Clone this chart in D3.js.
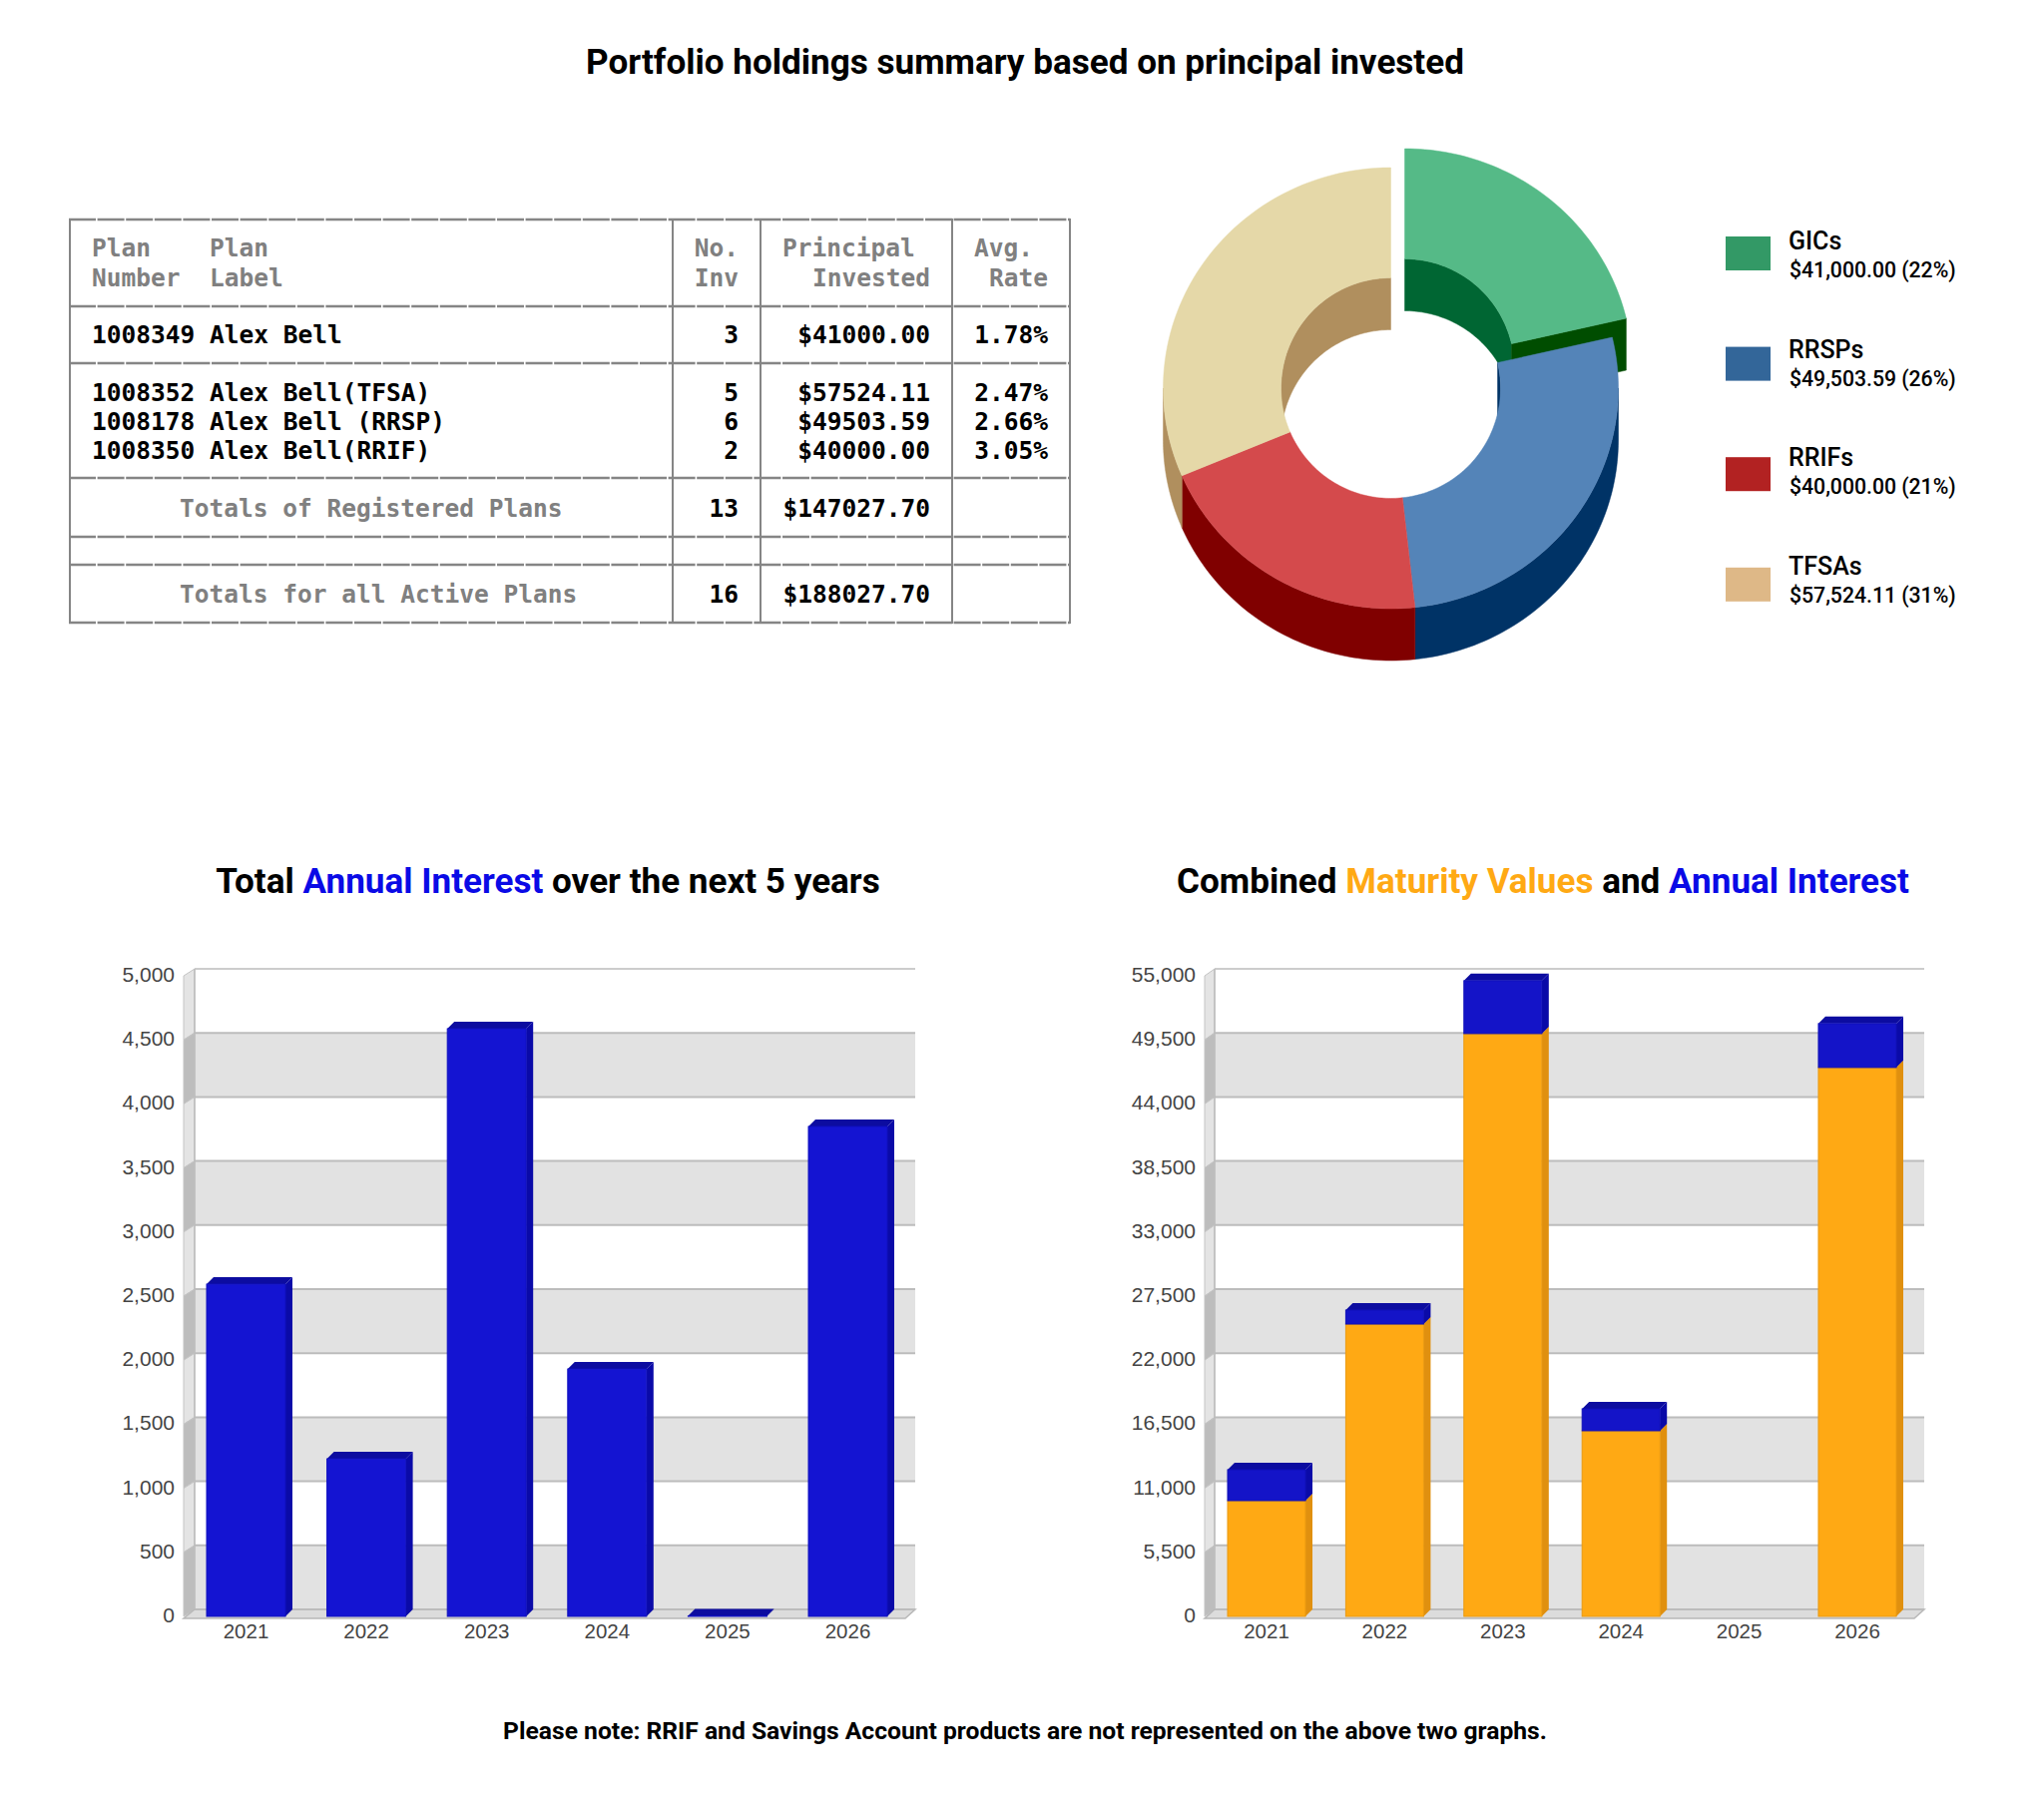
<!DOCTYPE html>
<html><head><meta charset="utf-8">
<style>html,body{margin:0;padding:0;background:#fff}svg{display:block}</style>
<script src="https://cdn.jsdelivr.net/npm/d3@7"></script></head>
<body><svg id="c" width="2048" height="1799"></svg>
<script>
const years = ["2021","2022","2023","2024","2025","2026"];
const annualInterest = [2593,1230,4587,1931,4,3824];
const maturityValues = [9940,25100,50040,15940,0,47130];
const combinedInterest = [2656,1200,4545,1880,0,3770];
const leftTicks = [0,500,1000,1500,2000,2500,3000,3500,4000,4500,5000];
const rightTicks = [0,5500,11000,16500,22000,27500,33000,38500,44000,49500,55000];
const holdingNames = ["GICs","RRSPs","RRIFs","TFSAs"];
const holdingAmounts = ["$41,000.00 (22%)","$49,503.59 (26%)","$40,000.00 (21%)","$57,524.11 (31%)"];
const sliceShares = [21.3,27.0,20.2,31.5]; // slice sizes as drawn in the picture
const holdingColors = ["#339966","#336699","#b22222","#deb887"];
const topColors = ["#55ba87","#5484b8","#d44a4c","#e5d8a8"];
const wallColors = ["#006633","#003366","#800000","#b08f5e"];
const tableRows = [
  {y:344,c:"#000",t:["1008349 Alex Bell","3","$41000.00","1.78%"]},
  {y:402,c:"#000",t:["1008352 Alex Bell(TFSA)","5","$57524.11","2.47%"]},
  {y:431,c:"#000",t:["1008178 Alex Bell (RRSP)","6","$49503.59","2.66%"]},
  {y:460,c:"#000",t:["1008350 Alex Bell(RRIF)","2","$40000.00","3.05%"]}
];
const svg = d3.select("#c");
const sans = "Roboto, sans-serif", mono = "'DejaVu Sans Mono', monospace", arial = "'Liberation Sans', Arial, sans-serif";

// titles
function rich(x,y,size,weight,parts){
  const t = svg.append("text").attr("x",x).attr("y",y).attr("text-anchor","middle")
    .attr("font-family",sans).attr("font-size",size).attr("font-weight",weight);
  parts.forEach(p=>t.append("tspan").attr("fill",p[1]).text(p[0]));
}
rich(1027,74,35.1,700,[["Portfolio holdings summary based on principal invested","#000"]]);
rich(549,895,35.1,700,[["Total ","#000"],["Annual Interest","#0a0ae6"],[" over the next 5 years","#000"]]);
rich(1546,895,35.1,700,[["Combined ","#000"],["Maturity Values","#ffa914"],[" and ","#000"],["Annual Interest","#0a0ae6"]]);
rich(1027,1743,24.65,700,[["Please note: RRIF and Savings Account products are not represented on the above two graphs.","#000"]]);

// table
const tg = svg.append("g").attr("font-family",mono).attr("font-size",24.5).attr("font-weight",700);
const hLines=[220,307,364,479,538,566,624], vLines=[70,674,762,954,1072];
hLines.forEach(y=>tg.append("line").attr("x1",69).attr("x2",1072).attr("y1",y).attr("y2",y).attr("stroke","#858585").attr("stroke-width",2.4).attr("stroke-dasharray","27 1.6"));
vLines.forEach(x=>tg.append("line").attr("x1",x).attr("x2",x).attr("y1",219).attr("y2",625).attr("stroke","#858585").attr("stroke-width",2));
const txt=(x,y,s,c,a)=>tg.append("text").attr("x",x).attr("y",y).attr("fill",c).attr("text-anchor",a||"start").style("white-space","pre").text(s);
const grey="#808080";
txt(92,257,"Plan",grey);txt(92,287,"Number",grey);txt(210,257,"Plan",grey);txt(210,287,"Label",grey);
txt(740,257,"No.",grey,"end");txt(740,287,"Inv",grey,"end");
txt(784,257,"Principal",grey);txt(932,287,"Invested",grey,"end");
txt(976,257,"Avg.",grey);txt(1050,287,"Rate",grey,"end");
tableRows.forEach(r=>{txt(92,r.y,r.t[0],r.c);txt(740,r.y,r.t[1],r.c,"end");txt(932,r.y,r.t[2],r.c,"end");txt(1050,r.y,r.t[3],r.c,"end");});
txt(180,517.5,"Totals of Registered Plans",grey);txt(740,517.5,"13","#000","end");txt(932,517.5,"$147027.70","#000","end");
txt(180,603.5,"Totals for all Active Plans",grey);txt(740,603.5,"16","#000","end");txt(932,603.5,"$188027.70","#000","end");

// donut
const cx=1393.5, cy=389, ORX=228, ORY=221, IRX=110, IRY=110.5, depth=52;
const arcs=d3.pie().sort(null).value(d=>d)(sliceShares);
const line=d3.line();
const pt=(a,rx,ry,ox,oy)=>[cx+ox+rx*Math.sin(a),cy+oy-ry*Math.cos(a)];
const samples=(a0,a1,rx,ry,ox,oy)=>d3.range(0,61).map(i=>pt(a0+(a1-a0)*i/60,rx,ry,ox,oy));
const dg=svg.append("g");
const offs=arcs.map((d,i)=>i===0?[14,-19]:[0,0]);
const poly=(pts,fill)=>dg.append("path").attr("d",line(pts)+"Z").attr("fill",fill).attr("stroke",fill).attr("stroke-width",.5);
const band=(a0,a1,rx,ry,o,fill)=>{
  const top=samples(a0,a1,rx,ry,o[0],o[1]), bot=samples(a1,a0,rx,ry,o[0],o[1]+depth);
  poly(top.concat(bot),fill);
};
const P=Math.PI;
// inner walls (back half of the hole)
arcs.forEach((d,i)=>{
  if(d.startAngle<P/2) band(d.startAngle,Math.min(d.endAngle,P/2),IRX,IRY,offs[i],wallColors[i]);
  if(d.endAngle>1.5*P) band(Math.max(d.startAngle,1.5*P),d.endAngle,IRX,IRY,offs[i],wallColors[i]);
});
// outer walls (front half)
arcs.forEach((d,i)=>{
  const a0=Math.max(d.startAngle,P/2), a1=Math.min(d.endAngle,1.5*P);
  if(a1>a0) band(a0,a1,ORX,ORY,offs[i],wallColors[i]);
});
// cut face of the exploded slice
{const a=arcs[0].endAngle,o=offs[0];
 const p=pt(a,IRX,IRY,o[0],o[1]),q=pt(a,ORX,ORY,o[0],o[1]);
 poly([p,q,[q[0],q[1]+depth],[p[0],p[1]+depth]],"#004d00");}
// top faces
arcs.forEach((d,i)=>{
  const o=offs[i];
  poly(samples(d.startAngle,d.endAngle,ORX,ORY,o[0],o[1]).concat(samples(d.endAngle,d.startAngle,IRX,IRY,o[0],o[1])),topColors[i]);
});

// legend
const lg=svg.append("g").attr("font-family",sans);
holdingNames.forEach((n,i)=>{
  const y=237+i*110.6;
  lg.append("rect").attr("x",1729).attr("y",y).attr("width",45).attr("height",34).attr("fill",holdingColors[i]);
  lg.append("text").attr("x",1792).attr("y",250+i*108.5).attr("font-size",25).attr("font-weight",500).attr("fill","#000").text(n);
  lg.append("text").attr("x",1793).attr("y",278+i*108.7).attr("font-size",21.2).attr("font-weight",500).attr("fill","#000").text(holdingAmounts[i]);
});

// 3D bar charts
function chart(o){
  const g=svg.append("g");
  const dy=9;
  const yS=d3.scaleLinear().domain([0,o.ticks[o.ticks.length-1]]).range([1613,971]);
  const xS=d3.scaleBand().domain(years).range([o.x0,o.x1]).paddingInner(o.pad);
  const ty=o.ticks.slice().reverse();
  // background bands
  ty.slice(0,-1).forEach((t,i)=>{
    if(i%2===1) g.append("rect").attr("x",o.bx).attr("y",yS(t)).attr("width",o.right-o.bx).attr("height",yS(ty[i+1])-yS(t)).attr("fill","#e2e2e2");
    const p=[[o.fx,yS(t)+dy-2],[o.bx,yS(t)],[o.bx,yS(ty[i+1])],[o.fx,yS(ty[i+1])+dy-2]];
    g.append("path").attr("d",line(p)+"Z").attr("fill",i%2===1?"#bdbdbd":"#e4e4e4").attr("stroke","#c4c4c4");
  });
  // floor
  g.append("path").attr("d",line([[o.bx,1613],[o.right,1613],[o.right-10,1622],[o.fx,1622]])+"Z").attr("fill","#dcdcdc").attr("stroke","#b8b8b8").attr("stroke-width",1.5);
  // grid lines
  o.ticks.forEach(t=>g.append("line").attr("x1",o.bx).attr("x2",o.right).attr("y1",yS(t)).attr("y2",yS(t)).attr("stroke",t===o.ticks[o.ticks.length-1]?"#cccccc":"#bcbcbc").attr("stroke-width",2));
  g.append("line").attr("x1",o.bx).attr("x2",o.bx).attr("y1",971).attr("y2",1613).attr("stroke","#bcbcbc").attr("stroke-width",1.5);
  // tick labels
  const f=d3.format(",");
  o.ticks.forEach(t=>g.append("text").attr("x",o.labelX).attr("y",yS(t)+13).attr("text-anchor","end").attr("font-family",arial).attr("font-size",21).attr("fill","#444").text(f(t)));
  years.forEach(yr=>g.append("text").attr("x",xS(yr)+xS.bandwidth()/2).attr("y",1642).attr("text-anchor","middle").attr("font-family",arial).attr("font-size",20.5).attr("fill","#444").text(yr));
  // bars
  const base=1620, off=7, zero=yS(0);
  const box=(yr,v0,v1,s)=>{
    const x=xS(yr), w=xS.bandwidth();
    const y0=base-(zero-yS(v0)), y1=base-(zero-yS(v1));
    g.append("path").attr("d",line([[x+w,y0],[x+w+off,y0-off],[x+w+off,y1-off],[x+w,y1]])+"Z").attr("fill",s.side);
    g.append("path").attr("d",line([[x,y1],[x+off,y1-off],[x+w+off,y1-off],[x+w,y1]])+"Z").attr("fill",s.top);
    g.append("rect").attr("x",x).attr("y",y1).attr("width",w).attr("height",y0-y1).attr("fill",s.front).attr("stroke",s.edge).attr("stroke-width",1);
  };
  o.series.forEach(s=>{
    years.forEach((yr,i)=>{
      const v0=s.base?s.base[i]:0, v=s.values[i];
      if(v>0) box(yr,v0,v0+v,s);
    });
  });
}
chart({fx:184,bx:195,right:917,labelX:175,x0:207,x1:889,pad:.345,ticks:leftTicks,
  series:[{values:annualInterest,front:"#1414d2",side:"#0a0aa8",top:"#0c0ca0",edge:"#1010c0"}]});
chart({fx:1207,bx:1217,right:1928,labelX:1198,x0:1230,x1:1900,pad:.341,ticks:rightTicks,
  series:[{values:maturityValues,front:"#ffa914",side:"#e0900f",top:"#e0900f",edge:"#ea9a10"},
          {values:combinedInterest,base:maturityValues,front:"#1414c8",side:"#0a0aa8",top:"#0c0ca0",edge:"#1010b8"}]});
</script></body></html>
